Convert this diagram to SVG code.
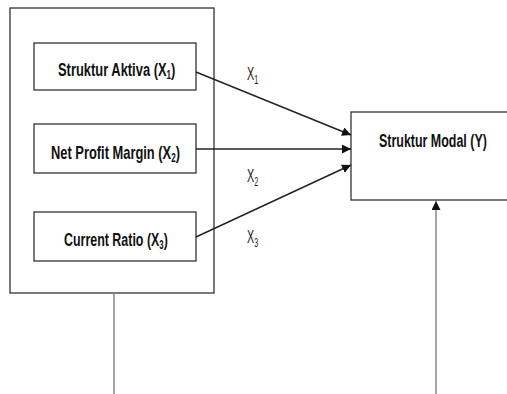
<svg xmlns="http://www.w3.org/2000/svg" width="507" height="394" viewBox="0 0 507 394">
<style>
.box{fill:#fff;stroke:#333;stroke-width:1.3}
.t{font-family:"Liberation Sans",Arial,sans-serif;font-weight:bold;font-size:19px;fill:#111}
.l{font-family:"Liberation Sans",Arial,sans-serif;font-size:18px;fill:#222}
.s{font-size:12px}
.c{stroke:#222;stroke-width:1.4;fill:none}
.g{stroke:#888;stroke-width:1.5;fill:none}
</style>
<defs>
<marker id="ah" viewBox="0 0 10 10" refX="10" refY="5" markerWidth="9" markerHeight="9" markerUnits="userSpaceOnUse" orient="auto">
<path d="M0,0 L10,5 L0,10 z" fill="#111"/>
</marker>
</defs>
<rect width="507" height="394" fill="#fff"/>
<g id="outer"><rect class="box" x="10" y="8" width="204" height="285"/></g>
<g id="x1"><rect class="box" x="34" y="43" width="162" height="47"/>
<text class="t" transform="translate(58,75.5) scale(0.68,1)">Struktur Aktiva (X<tspan class="s" dy="3">1</tspan><tspan dy="-3">)</tspan></text></g>
<g id="x2"><rect class="box" x="34" y="124" width="162" height="49"/>
<text class="t" transform="translate(51,159) scale(0.678,1)">Net Profit Margin (X<tspan class="s" dy="3">2</tspan><tspan dy="-3">)</tspan></text></g>
<g id="x3"><rect class="box" x="34" y="212" width="162" height="49"/>
<text class="t" transform="translate(64,246) scale(0.655,1)">Current Ratio (X<tspan class="s" dy="3">3</tspan><tspan dy="-3">)</tspan></text></g>
<g id="y"><rect class="box" x="351" y="112" width="160" height="88"/>
<text class="t" transform="translate(379,146.5) scale(0.656,1)">Struktur Modal (Y)</text></g>
<g id="connectors">
<line class="c" x1="196" y1="72" x2="351" y2="135" marker-end="url(#ah)"/>
<line class="c" x1="196" y1="149" x2="351" y2="149" marker-end="url(#ah)"/>
<line class="c" x1="196" y1="237" x2="351" y2="165" marker-end="url(#ah)"/>
<line class="g" x1="114" y1="293" x2="114" y2="394"/>
<line class="g" x1="436" y1="394" x2="436" y2="201" marker-end="url(#ah)"/>
</g>
<g id="labels">
<text class="l" transform="translate(247,80) scale(0.6,1)">X<tspan class="s" dy="4">1</tspan></text>
<text class="l" transform="translate(247,182) scale(0.6,1)">X<tspan class="s" dy="4">2</tspan></text>
<text class="l" transform="translate(247,243) scale(0.6,1)">X<tspan class="s" dy="4">3</tspan></text>
</g>
</svg>
